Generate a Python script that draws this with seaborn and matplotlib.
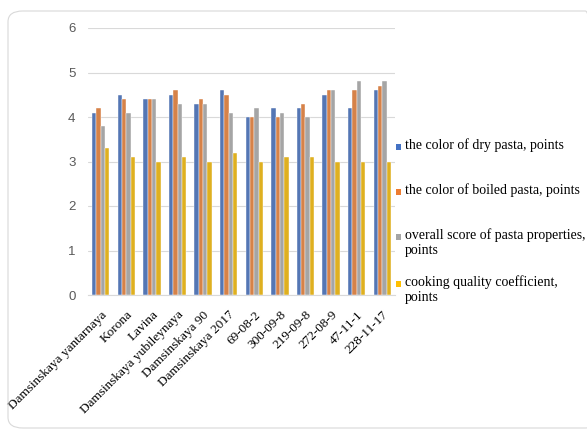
import matplotlib
matplotlib.use("Agg")
import matplotlib.pyplot as plt
from matplotlib.patches import FancyBboxPatch, Rectangle
import seaborn as sns
import pandas as pd
import numpy as np

categories = ["Damsinskaya yantarnaya", "Korona", "Lavina", "Damsinskaya yubileynaya",
              "Damsinskaya 90", "Damsinskaya 2017", "69-08-2", "300-09-8",
              "219-09-8", "272-08-9", "47-11-1", "228-11-17"]
dry_color = [4.1, 4.5, 4.4, 4.5, 4.3, 4.6, 4.0, 4.2, 4.2, 4.5, 4.2, 4.6]
boiled_color = [4.2, 4.4, 4.4, 4.6, 4.4, 4.5, 4.0, 4.0, 4.3, 4.6, 4.6, 4.7]
overall_score = [3.8, 4.1, 4.4, 4.3, 4.3, 4.1, 4.2, 4.1, 4.0, 4.6, 4.8, 4.8]
cooking_coef = [3.3, 3.1, 3.0, 3.1, 3.0, 3.2, 3.0, 3.1, 3.1, 3.0, 3.0, 3.0]
series_names = ["the color of dry pasta, points",
                "the color of boiled pasta, points",
                "overall score of pasta properties,\npoints",
                "cooking quality coefficient,\npoints"]
y_ticks = [0, 1, 2, 3, 4, 5, 6]

colors = ["#4472C4", "#ED7D31", "#A5A5A5", "#FFC000"]

df = pd.DataFrame({
    "variety": np.tile(categories, 4),
    "series": np.repeat(series_names, len(categories)),
    "value": dry_color + boiled_color + overall_score + cooking_coef,
})

sns.set_style("white")
plt.rcParams["font.family"] = ["DejaVu Sans"]

W, H = 587, 430
fig = plt.figure(figsize=(W / 100, H / 100), dpi=100)
ax = fig.add_axes([88 / W, 1 - 295 / H, (395 - 88) / W, (295 - 28) / H])

sns.barplot(data=df, x="variety", y="value", hue="series", order=categories,
            hue_order=series_names, palette=colors, width=0.68,
            edgecolor="white", linewidth=0.3, legend=False, ax=ax)

ax.set_ylim(0, 6)
ax.set_xlim(-0.5, len(categories) - 0.5)
ax.set_yticks(y_ticks)
ax.set_yticklabels([str(t) for t in y_ticks], color="#595959", fontsize=9.5,
                   family="Liberation Sans")
ax.yaxis.grid(True, color="#D9D9D9", linewidth=0.8)
ax.set_axisbelow(True)
ax.tick_params(axis="y", length=0, pad=9)

for s in ["left", "right", "top"]:
    ax.spines[s].set_visible(False)
ax.spines["bottom"].set_color("#D9D9D9")
ax.spines["bottom"].set_linewidth(0.8)

# category boundaries as minor ticks, labels at centers
ax.set_xticks(np.arange(len(categories)))
ax.set_xticks(np.arange(-0.5, len(categories)), minor=True)
ax.tick_params(axis="x", which="major", length=0, pad=10)
ax.tick_params(axis="x", which="minor", length=5, color="#D9D9D9", width=0.8)
ax.set_xticklabels(categories, rotation=45, ha="right", va="top",
                   rotation_mode="anchor", fontsize=9.5,
                   family="Liberation Serif", color="black")
ax.set_xlabel("")
ax.set_ylabel("")

# legend drawn as square markers with wrapped labels
legend_tops = [138, 183, 228, 275]
for name, col, top in zip(series_names, colors, legend_tops):
    fig.patches.append(Rectangle((396 / W, 1 - (top + 12) / H), 5 / W, 6 / H,
                                 transform=fig.transFigure, facecolor=col,
                                 edgecolor="none"))
    fig.text(405 / W, 1 - top / H, name, ha="left", va="top", fontsize=10,
             family="Liberation Serif", color="black", linespacing=1.2)

# rounded chart border
fig.patches.append(FancyBboxPatch((8 / W, 1 - 428 / H), (600 - 8) / W, (428 - 11) / H,
                                  boxstyle="round,pad=0,rounding_size=0.025",
                                  transform=fig.transFigure, facecolor="none",
                                  edgecolor="#D9D9D9", linewidth=0.8,
                                  clip_on=False))

fig.savefig("out.png", dpi=100, facecolor="white")
